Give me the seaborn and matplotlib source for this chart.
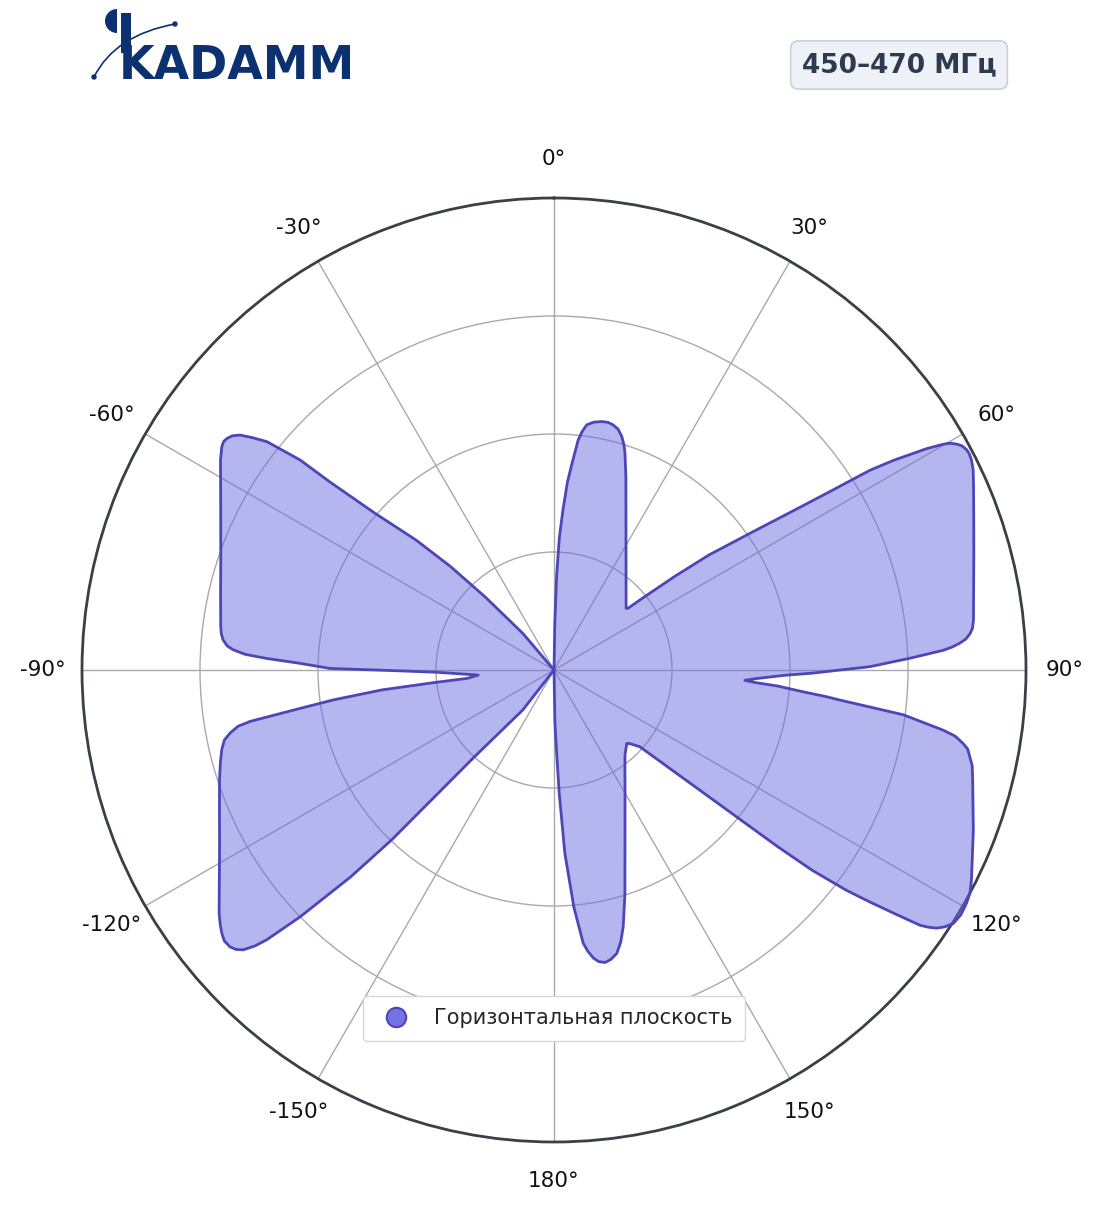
import numpy as np
import matplotlib
matplotlib.use("Agg")
import matplotlib.pyplot as plt
import seaborn as sns
from matplotlib.lines import Line2D
from matplotlib.patches import Wedge, Circle, Rectangle, PathPatch
from matplotlib.path import Path

# Horizontal-plane pattern (deg clockwise from north, normalised gain)
angle_deg = [
    0.0, 1.0, 1.6, 2.3, 3.2, 4.1, 5.0, 6.0, 6.7, 7.6, 9.16, 10.9, 12.3, 13.6,
    14.9, 16.2, 17.3, 18.1, 20.5, 23.0, 27.0, 31.0, 35.0, 40.0, 45.0, 49.5,
    50.2, 50.8, 52.2, 53.4, 55.1, 56.4, 57.1, 57.7, 58.3, 59.3, 59.9, 60.2,
    60.7, 61.2, 61.9, 62.5, 63.3, 64.5, 66.4, 70.4, 74.5, 79.2, 83.2, 84.3,
    85.0, 85.7, 86.2, 86.7, 87.1, 88.1, 89.4, 90.0, 90.7, 91.3, 92.4, 93.1,
    93.6, 94.1, 95.0, 95.6, 96.0, 96.6, 97.3, 98.8, 99.35, 100.2, 100.8, 101.8,
    102.9, 104.7, 110.9, 116.7, 118.2, 119.5, 121.05, 122.4, 123.3, 124.0,
    124.5, 124.9, 125.6, 126.3, 127.0, 127.8, 128.3, 128.7, 129.3, 130.2,
    131.8, 134.0, 135.2, 140.0, 145.0, 150.0, 155.0, 160.0, 162.4, 164.9,
    166.2, 167.5, 168.9, 170.1, 171.3, 172.2, 173.1, 173.9, 175.2, 176.6,
    177.6, 178.4, 179.0, 180.0,
    218.0, 222.5, 223.3, 223.7, 224.5, 225.1, 225.8, 226.8, 227.3, 228.0,
    228.7, 229.5, 230.6, 231.6, 232.6, 234.0, 238.0, 242.2, 247.0, 251.8,
    254.6, 256.5, 258.0, 259.0, 259.9, 260.4, 261.4, 262.3, 263.4, 264.0,
    264.5, 266.2, 268.9, 269.7, 270.4, 271.5, 272.3, 272.9, 273.6, 274.2,
    275.2, 276.2, 277.4, 283.0, 289.3, 293.0, 298.8, 302.2, 303.9, 304.65,
    305.3, 306.05, 306.8, 307.6, 308.5, 309.6, 310.0, 311.2, 313.3, 315.0,
    316.7, 319.6, 360.0,
]
gain = [
    0.0, 0.10, 0.20, 0.28, 0.34, 0.40, 0.44, 0.49, 0.508, 0.524, 0.532, 0.536,
    0.537, 0.534, 0.528, 0.515, 0.499, 0.484, 0.435, 0.39, 0.336, 0.296,
    0.266, 0.237, 0.216, 0.201, 0.205, 0.235, 0.323, 0.408, 0.506, 0.613,
    0.695, 0.792, 0.845, 0.919, 0.954, 0.967, 0.978, 0.986, 0.991, 0.992,
    0.990, 0.984, 0.970, 0.944, 0.923, 0.905, 0.895, 0.891, 0.885, 0.875,
    0.862, 0.845, 0.826, 0.755, 0.669, 0.606, 0.547, 0.490, 0.430, 0.405,
    0.430, 0.475, 0.530, 0.580, 0.609, 0.665, 0.746, 0.835, 0.861, 0.881,
    0.892, 0.900, 0.909, 0.917, 0.951, 0.990, 1.0, 1.004, 1.006, 1.002, 0.991,
    0.978, 0.962, 0.945, 0.885, 0.830, 0.775, 0.692, 0.604, 0.514, 0.424,
    0.334, 0.244, 0.225, 0.219, 0.234, 0.262, 0.301, 0.356, 0.440, 0.497,
    0.563, 0.593, 0.615, 0.625, 0.629, 0.625, 0.616, 0.601, 0.582, 0.505,
    0.390, 0.260, 0.155, 0.110, 0.0,
    0.1075, 0.249, 0.371, 0.4975, 0.614, 0.670, 0.750, 0.835, 0.862, 0.886,
    0.897, 0.903, 0.904, 0.898, 0.890, 0.877, 0.836, 0.801, 0.770, 0.746,
    0.733, 0.724, 0.714, 0.699, 0.680, 0.653, 0.544, 0.470, 0.367, 0.257,
    0.184, 0.161, 0.249, 0.329, 0.475, 0.538, 0.609, 0.655, 0.681, 0.694,
    0.704, 0.709, 0.712, 0.725, 0.748, 0.767, 0.806, 0.835, 0.848, 0.851,
    0.849, 0.843, 0.831, 0.807, 0.777, 0.698, 0.620, 0.504, 0.401, 0.310,
    0.213, 0.102, 0.0,
]
tick_angles = [0, 30, 60, 90, 120, 150, 180, 210, 240, 270, 300, 330]
tick_labels = ["0°", "30°", "60°", "90°", "120°", "150°", "180°",
               "-150°", "-120°", "-90°", "-60°", "-30°"]
ring_values = [0.25, 0.5, 0.75, 1.0]
series_name = "Горизонтальная плоскость"
band_label = "450–470 МГц"
brand = "KADAMM"

LINE = "#4c46b6"
FILL = "#6c6ce2"
NAVY = "#0b3170"

sns.set_theme(style="white")
plt.rcParams['font.family'] = ['DejaVu Sans']

fig = plt.figure(figsize=(11.04, 12.11), dpi=100)
ax = fig.add_axes([82 / 1104, 69 / 1211, 944 / 1104, 944 / 1211], projection='polar')

theta = np.deg2rad(angle_deg)
ax.fill(theta, gain, color=FILL, alpha=0.5, lw=0, zorder=3, clip_on=False)
sns.lineplot(x=theta, y=gain, sort=False, estimator=None, ax=ax,
             color=LINE, linewidth=2.0, zorder=4, clip_on=False)

ax.set_theta_zero_location('N')
ax.set_theta_direction(-1)
ax.set_ylim(0, 1)
ax.set_yticks(ring_values)
ax.set_yticklabels([])
ax.set_xticks(np.deg2rad(tick_angles))
ax.set_xticklabels(tick_labels, fontsize=15.5, color='#111111')
ax.tick_params(axis='x', pad=15)
ax.grid(True, color='#a9a9ad', linewidth=1)
ax.spines['polar'].set_color('#3b3f48')
ax.spines['polar'].set_linewidth(2)
ax.set_xlabel('')
ax.set_ylabel('')

# legend
handle = Line2D([], [], marker='o', linestyle='none', markersize=14,
                markerfacecolor='#7472e6', markeredgecolor=LINE, markeredgewidth=1.5)
fig.legend([handle], [series_name], loc='center',
           bbox_to_anchor=(554 / 1104, 1 - 1018 / 1211), fontsize=15,
           frameon=True, edgecolor='#d3d7e2', facecolor='white', framealpha=1,
           handletextpad=0.8, borderpad=0.6, fancybox=True)

# header: logo and band label, drawn in pixel coords
deco = fig.add_axes([0, 0, 1, 1])
deco.set_xlim(0, 1104)
deco.set_ylim(1211, 0)
deco.axis('off')
deco.patch.set_alpha(0)

deco.text(899, 65, band_label, ha='center', va='center', fontsize=19,
          fontweight='bold', color='#2e3b4e',
          bbox=dict(boxstyle='round,pad=0.42,rounding_size=0.3',
                    fc='#eef2f7', ec='#c9d1dd', lw=1.2))

deco.text(119, 79, brand, fontsize=33, fontweight='bold', color=NAVY,
          ha='left', va='baseline')
deco.add_patch(Rectangle((121, 13), 10, 40, color=NAVY, lw=0))
deco.add_patch(Wedge((117, 21), 12, 90, 270, color=NAVY, lw=0))
arc = Path([(94, 77), (115, 35), (175, 24)], [Path.MOVETO, Path.CURVE3, Path.CURVE3])
deco.add_patch(PathPatch(arc, fc='none', ec=NAVY, lw=1.2))
deco.add_patch(Circle((94, 77), 2.0, color=NAVY))
deco.add_patch(Circle((175, 24), 2.0, color=NAVY))

fig.savefig('out.png', dpi=100)
